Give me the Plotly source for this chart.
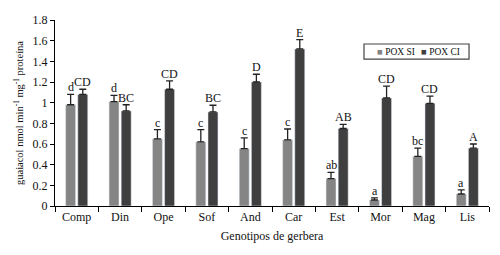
import plotly.graph_objects as go

categories = ["Comp", "Din", "Ope", "Sof", "And", "Car", "Est", "Mor", "Mag", "Lis"]
pox_si = [0.98, 1.01, 0.65, 0.62, 0.555, 0.64, 0.265, 0.058, 0.48, 0.116]
pox_si_err = [0.10, 0.06, 0.09, 0.12, 0.105, 0.105, 0.06, 0.02, 0.08, 0.04]
pox_ci = [1.08, 0.92, 1.13, 0.91, 1.20, 1.52, 0.75, 1.045, 0.994, 0.56]
pox_ci_err = [0.05, 0.06, 0.08, 0.065, 0.075, 0.09, 0.04, 0.115, 0.07, 0.04]
si_letters = ["d", "d", "c", "c", "c", "c", "ab", "a", "bc", "a"]
ci_letters = ["CD", "BC", "CD", "BC", "D", "E", "AB", "CD", "CD", "A"]
series_names = ["POX SI", "POX CI"]

SI_COLOR = "#858585"
CI_COLOR = "#3f3f3f"
FONT = "Liberation Serif"

fig = go.Figure()
fig.add_trace(go.Bar(
    x=categories, y=pox_si, name=series_names[0], marker_color=SI_COLOR, showlegend=False,
    error_y=dict(type="data", symmetric=False, array=pox_si_err, arrayminus=[0]*len(pox_si),
                 color="#222222", thickness=1.3, width=3.5),
))
fig.add_trace(go.Bar(
    x=categories, y=pox_ci, name=series_names[1], marker_color=CI_COLOR, showlegend=False,
    error_y=dict(type="data", symmetric=False, array=pox_ci_err, arrayminus=[0]*len(pox_ci),
                 color="#222222", thickness=1.3, width=3.5),
))

for i, c in enumerate(categories):
    fig.add_annotation(x=c, y=pox_si[i] + pox_si_err[i], text=si_letters[i], showarrow=False,
                       xshift=-6, yanchor="bottom", yshift=-2,
                       font=dict(family=FONT, size=12, color="#111111"))
    fig.add_annotation(x=c, y=pox_ci[i] + pox_ci_err[i], text=ci_letters[i], showarrow=False,
                       xshift=6, yanchor="bottom", yshift=-2,
                       font=dict(family=FONT, size=12, color="#111111"))

# compact boxed legend
fig.add_shape(type="rect", xref="paper", yref="paper", x0=0.712, x1=0.954, y0=0.79, y1=0.871,
              line=dict(color="#444444", width=1.2), fillcolor="rgba(255,255,255,0)", layer="above")
fig.add_annotation(xref="paper", yref="paper", x=0.737, y=0.8305, xanchor="left", yanchor="middle",
                   showarrow=False, font=dict(family=FONT, size=9.5, color="#111111"),
                   text=f"<span style='color:{SI_COLOR}'>■</span> {series_names[0]}")
fig.add_annotation(xref="paper", yref="paper", x=0.838, y=0.8305, xanchor="left", yanchor="middle",
                   showarrow=False, font=dict(family=FONT, size=9.5, color="#111111"),
                   text=f"<span style='color:{CI_COLOR}'>■</span> {series_names[1]}")

fig.update_layout(
    width=500, height=255,
    margin=dict(l=55, r=11, t=20, b=49),
    paper_bgcolor="white", plot_bgcolor="white",
    barmode="group", bargap=0.44, bargroupgap=0.18,
    font=dict(family=FONT, size=12, color="#111111"),
    showlegend=False,
)
fig.update_xaxes(
    automargin=False,
    showline=True, linecolor="black", linewidth=1,
    ticks="outside", tickson="boundaries", ticklen=5, tickcolor="black",
    tickfont=dict(size=12, family=FONT),
    title=dict(text="Genotipos de gerbera", font=dict(size=12, family=FONT), standoff=8),
)
fig.update_yaxes(
    automargin=False,
    range=[0, 1.8], dtick=0.2, showgrid=False, zeroline=False,
    showline=True, linecolor="black", linewidth=1,
    ticks="outside", ticklen=4, tickcolor="black",
    tickfont=dict(size=12, family=FONT),
    title=dict(text="guaiacol nmol min<sup>-1</sup> mg<sup>-1</sup> proteína",
               font=dict(size=10.5, family=FONT), standoff=6),
)

fig.write_html("out.html", config={"displayModeBar": False},
               post_script="document.body.style.margin='0';")
